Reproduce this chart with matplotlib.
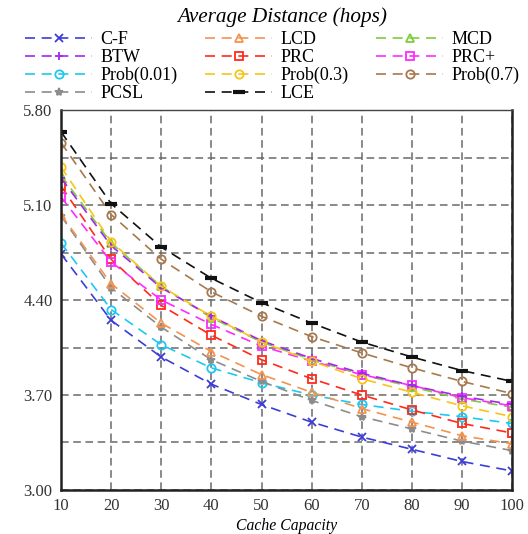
import matplotlib.pyplot as plt
from matplotlib.ticker import FixedLocator

# Average distance (hops) vs cache capacity

capacity = [10, 20, 30, 40, 50, 60, 70, 80, 90, 100]

cf = [4.74, 4.25, 3.98, 3.78, 3.63, 3.50, 3.39, 3.30, 3.21, 3.14]
btw = [5.30, 4.80, 4.49, 4.28, 4.10, 3.97, 3.86, 3.77, 3.69, 3.63]
prob001 = [4.82, 4.33, 4.07, 3.90, 3.79, 3.70, 3.63, 3.58, 3.54, 3.49]
pcsl = [5.02, 4.49, 4.20, 3.96, 3.80, 3.66, 3.54, 3.45, 3.36, 3.29]
lcd = [5.03, 4.52, 4.23, 4.02, 3.85, 3.72, 3.60, 3.50, 3.40, 3.34]
prc = [5.24, 4.70, 4.36, 4.14, 3.96, 3.82, 3.70, 3.59, 3.49, 3.42]
prob03 = [5.38, 4.83, 4.50, 4.28, 4.09, 3.95, 3.82, 3.72, 3.62, 3.54]
lce = [5.64, 5.11, 4.79, 4.56, 4.38, 4.23, 4.09, 3.98, 3.88, 3.80]
mcd = [5.32, 4.82, 4.50, 4.27, 4.09, 3.96, 3.85, 3.76, 3.67, 3.61]
prcplus = [5.16, 4.68, 4.40, 4.22, 4.06, 3.95, 3.85, 3.77, 3.68, 3.62]
prob07 = [5.56, 5.03, 4.70, 4.46, 4.28, 4.13, 4.01, 3.90, 3.80, 3.71]

y_ticks = [3.00, 3.70, 4.40, 5.10, 5.80]
y_grid = [3.35, 4.05, 4.75, 5.45]

series = [
    ('C-F', cf, '#3c3cd8', 'x'),
    ('BTW', btw, '#a326f0', '+'),
    ('Prob(0.01)', prob001, '#1ec8f0', 'o'),
    ('PCSL', pcsl, '#8c8c8c', '*'),
    ('LCD', lcd, '#f39350', '^'),
    ('PRC', prc, '#ff2a1a', 's'),
    ('Prob(0.3)', prob03, '#f5c518', 'o'),
    ('LCE', lce, '#111111', '_'),
    ('MCD', mcd, '#7fcc3c', '^'),
    ('PRC+', prcplus, '#ff2aff', 's'),
    ('Prob(0.7)', prob07, '#a8784c', 'o'),
]

plt.rcParams['font.family'] = ['Liberation Serif', 'DejaVu Serif']

fig = plt.figure(figsize=(5.28, 5.34), dpi=100)
ax = fig.add_axes([0.1155, 0.0824, 0.8545, 0.7116])

# draw in back-to-front order so the top lines stay visible
draw_order = ['C-F', 'Prob(0.01)', 'PCSL', 'LCD', 'PRC', 'MCD', 'PRC+',
              'BTW', 'Prob(0.3)', 'Prob(0.7)', 'LCE']
handles = {}
for name in draw_order:
    label, vals, color, marker = next(s for s in series if s[0] == name)
    filled = marker in ('x', '+', '*', '_')
    line, = ax.plot(capacity, vals, linestyle=(0, (6, 4)), linewidth=1.2,
                    color=color, marker=marker,
                    markersize=6 if marker != '_' else 8,
                    markeredgewidth=1.3 if marker != '_' else 3,
                    markerfacecolor=color if filled else 'none',
                    markeredgecolor=color, label=label)
    handles[label] = line

ax.set_xlim(10, 100)
ax.set_ylim(3.0, 5.8)
ax.set_xticks(capacity)
ax.yaxis.set_major_locator(FixedLocator(y_ticks))
ax.yaxis.set_minor_locator(FixedLocator(y_grid))
ax.yaxis.set_major_formatter(plt.FormatStrFormatter('%.2f'))
ax.grid(True, which='major', linestyle=(0, (5, 3)), color='#6a6a6a', linewidth=1.1)
ax.grid(True, which='minor', axis='y', linestyle=(0, (5, 3)), color='#6a6a6a', linewidth=1.1)
ax.tick_params(which='both', length=0, labelsize=12, pad=6, colors='#333333')
for side in ['left', 'bottom', 'right']:
    ax.spines[side].set_linewidth(1.8)
    ax.spines[side].set_color('#222222')
ax.spines['top'].set_linewidth(1.0)
ax.spines['top'].set_color('#444444')

ax.set_xlabel('Cache Capacity', fontstyle='italic', fontsize=11.3, labelpad=3)

fig.text(0.534, 0.968, 'Average Distance (hops)', ha='center', va='center',
         fontsize=15.3, fontstyle='italic')

order = ['C-F', 'BTW', 'Prob(0.01)', 'PCSL', 'LCD', 'PRC', 'Prob(0.3)', 'LCE',
         'MCD', 'PRC+', 'Prob(0.7)']
fig.legend([handles[n] for n in order], order, ncol=3, loc='upper left',
           bbox_to_anchor=(0.048, 0.942), frameon=False, fontsize=13,
           handlelength=3.7, columnspacing=1.55, handletextpad=0.45,
           labelspacing=0.05, borderpad=0.0, borderaxespad=0.0)

plt.savefig('out.png', dpi=100)
